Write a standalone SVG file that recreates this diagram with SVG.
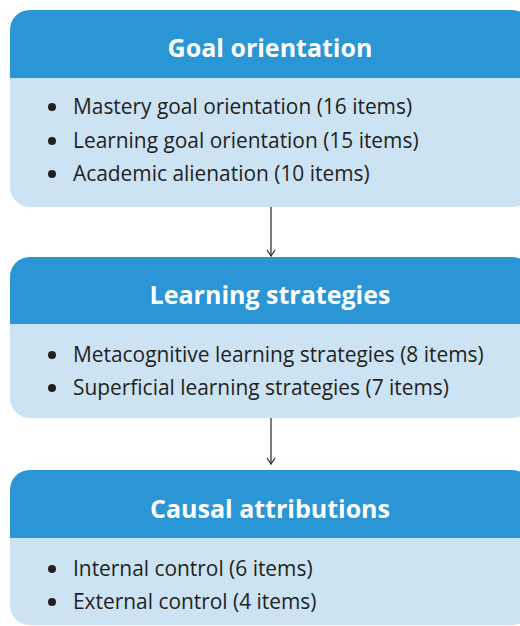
<svg xmlns="http://www.w3.org/2000/svg" width="520" height="626" viewBox="0 0 520 626">
<defs>
<style>
.body{fill:#cce3f4}
.head{fill:#2b96d5}
.title{font-family:"Open Sans","Liberation Sans",Arial,sans-serif;font-weight:bold;font-size:25px;fill:#ffffff;text-anchor:middle}
.item{font-family:"Open Sans","Liberation Sans",Arial,sans-serif;font-size:20.9px;fill:#231f20}
.dot{fill:#231f20}
.conn{stroke:#333333;stroke-width:1.3;fill:none}
</style>
<marker id="arr" markerWidth="10" markerHeight="10" refX="8" refY="5" orient="auto" markerUnits="userSpaceOnUse">
<path d="M2,1 L8,5 L2,9" fill="none" stroke="#333333" stroke-width="1.3"/>
</marker>
</defs>
<rect width="520" height="626" fill="#ffffff"/>
<g id="goal-orientation">
<rect class="body" x="10" y="10" width="522" height="197" rx="20" ry="20"/>
<path class="head" d="M10,78 V30 A20,20 0 0 1 30,10 H512 A20,20 0 0 1 532,30 V78 Z"/>
<text class="title" x="270" y="57">Goal orientation</text>
<circle class="dot" cx="52" cy="107" r="4"/>
<text class="item" x="73" y="114">Mastery goal orientation (16 items)</text>
<circle class="dot" cx="52" cy="141" r="4"/>
<text class="item" x="73" y="148">Learning goal orientation (15 items)</text>
<circle class="dot" cx="52" cy="174" r="4"/>
<text class="item" x="73" y="181">Academic alienation (10 items)</text>
</g>
<g id="learning-strategies">
<rect class="body" x="10" y="257" width="522" height="161" rx="20" ry="20"/>
<path class="head" d="M10,324 V277 A20,20 0 0 1 30,257 H512 A20,20 0 0 1 532,277 V324 Z"/>
<text class="title" x="270" y="304">Learning strategies</text>
<circle class="dot" cx="52" cy="355" r="4"/>
<text class="item" x="73" y="362">Metacognitive learning strategies (8 items)</text>
<circle class="dot" cx="52" cy="388" r="4"/>
<text class="item" x="73" y="395">Superficial learning strategies (7 items)</text>
</g>
<g id="causal-attributions">
<rect class="body" x="10" y="470" width="522" height="155" rx="20" ry="20"/>
<path class="head" d="M10,538 V490 A20,20 0 0 1 30,470 H512 A20,20 0 0 1 532,490 V538 Z"/>
<text class="title" x="270" y="518">Causal attributions</text>
<circle class="dot" cx="52" cy="569" r="4"/>
<text class="item" x="73" y="576">Internal control (6 items)</text>
<circle class="dot" cx="52" cy="602" r="4"/>
<text class="item" x="73" y="609">External control (4 items)</text>
</g>
<g id="connectors">
<line class="conn" x1="271" y1="207" x2="271" y2="256" marker-end="url(#arr)"/>
<line class="conn" x1="271" y1="418" x2="271" y2="464" marker-end="url(#arr)"/>
</g>
</svg>
